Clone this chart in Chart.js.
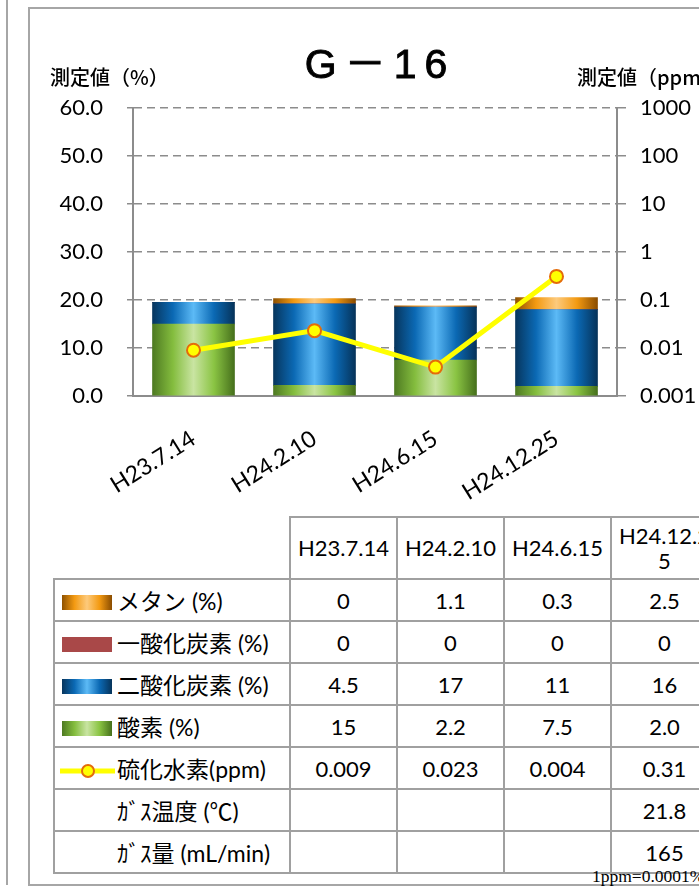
<!DOCTYPE html>
<html>
<head>
<meta charset="utf-8">
<script src="https://cdn.jsdelivr.net/npm/chart.js@4.4.1/dist/chart.umd.min.js"></script>
<style>
  body { margin: 0; width: 699px; height: 891px; overflow: hidden; background: #fff; position: relative;
         font-family: Lato, "Noto Sans CJK JP", sans-serif; color: #000; }
  .abs { position: absolute; }
  #leftLine { left: 6px; top: 0; width: 0; height: 885px; border-left: 2px solid #a6a6a6; }
  #frame { left: 28px; top: 7px; width: 800px; height: 879px; border: 2px solid #a6a6a6; box-sizing: border-box; }
  #chartBox { left: 0; top: 0; width: 699px; height: 510px; }
  #title { left: 280px; top: 30px; width: 200px; text-align: center; font-family: "Liberation Sans", "Noto Sans CJK JP", sans-serif;
           font-size: 41px; letter-spacing: 8px; -webkit-text-stroke: 0.9px #000; }
  .axTitle { font-family: "Noto Sans CJK JP", sans-serif; font-size: 20px; font-weight: 500; top: 62px; white-space: nowrap; }
  table { position: absolute; left: 53px; top: 516px; width: 664px; border-collapse: collapse; table-layout: fixed; font-size: 22px; }
  td { border: 2px solid #a0a0a0; text-align: center; padding: 0; height: 40px; }
  td.lab { text-align: left; white-space: nowrap; padding-left: 7px; font-size: 23px; }
  tr.head td { height: 60px; line-height: 1.15; }
  td.blank { border-top: none; border-left: none; }
  .sw { display: inline-block; width: 50px; height: 15px; vertical-align: 0px; margin-right: 5px; }
  .nosw { display: inline-block; width: 55px; }
  #note { left: 592px; top: 866px; font-family: "Liberation Serif", serif; font-size: 17.5px; white-space: nowrap; }
</style>
</head>
<body>
<div id="leftLine" class="abs"></div>
<div id="frame" class="abs"></div>
<div id="chartBox" class="abs"><canvas id="chart" width="699" height="510"></canvas></div>
<div id="title" class="abs">G－16</div>
<div class="abs axTitle" style="left:50px">測定値（%）</div>
<div class="abs axTitle" style="left:577px">測定値（ppm）</div>

<table id="tbl"></table>
<div id="note" class="abs">1ppm=0.0001%</div>

<script>
// --- data ---
const dates = ['H23.7.14', 'H24.2.10', 'H24.6.15', 'H24.12.25'];
const methane = [0, 1.1, 0.3, 2.5];        // %
const carbonMonoxide = [0, 0, 0, 0];       // %
const carbonDioxide = [4.5, 17, 11, 16];   // %
const oxygen = [15, 2.2, 7.5, 2.0];        // %
const hydrogenSulfide = [0.009, 0.023, 0.004, 0.31]; // ppm
const gasTemp = ['', '', '', '21.8'];      // ℃
const gasFlow = ['', '', '', '165'];       // mL/min

// table text as printed
const methaneText = ['0', '1.1', '0.3', '2.5'];
const coText = ['0', '0', '0', '0'];
const co2Text = ['4.5', '17', '11', '16'];
const o2Text = ['15', '2.2', '7.5', '2.0'];
const h2sText = ['0.009', '0.023', '0.004', '0.31'];

const leftTicks = [0, 10, 20, 30, 40, 50, 60];
const leftTickLabels = ['0.0', '10.0', '20.0', '30.0', '40.0', '50.0', '60.0'];
const rightTicks = [0.001, 0.01, 0.1, 1, 10, 100, 1000];
const rightTickLabels = ['0.001', '0.01', '0.1', '1', '10', '100', '1000'];

// cylinder-like gradients
const GREEN = ['#4e7a22', '#84bd3e', '#c9e4a2', '#8ac443', '#46701c'];
const BLUE = ['#07365e', '#0b69b4', '#5cbaf6', '#0b69b4', '#06335a'];
const ORANGE = ['#8f5200', '#f39a12', '#fdca7c', '#f39a12', '#8a4c00'];
const RED = ['#a94848', '#a94848', '#a94848', '#a94848', '#a94848'];
const GRID = '#8c8c8c';
const BAR_W = 82;

// --- data table with legend swatches ---
const grad = s => 'linear-gradient(to right,' + s.join(',') + ')';
const h2sSwatch = '<svg width="55" height="20" style="vertical-align:-3px;margin-left:-2px;margin-right:2px">' +
    '<line x1="0" y1="10" x2="55" y2="10" stroke="#ffff00" stroke-width="5"/>' +
    '<circle cx="28" cy="10" r="6" fill="#ffff00" stroke="#e46c0a" stroke-width="2"/></svg>';
const rows = [
    ['<span class="sw" style="background:' + grad(ORANGE) + '"></span>メタン (%)', methaneText],
    ['<span class="sw" style="background:#a94848"></span>一酸化炭素 (%)', coText],
    ['<span class="sw" style="background:' + grad(BLUE) + '"></span>二酸化炭素 (%)', co2Text],
    ['<span class="sw" style="background:' + grad(GREEN) + '"></span>酸素 (%)', o2Text],
    [h2sSwatch + '硫化水素(ppm)', h2sText],
    ['<span class="nosw"></span>ｶﾞｽ温度 (℃)', gasTemp],
    ['<span class="nosw"></span>ｶﾞｽ量 (mL/min)', gasFlow]
];
let html = '<colgroup><col style="width:236px">' + dates.map(() => '<col style="width:107px">').join('') + '</colgroup>';
html += '<tr class="head"><td class="blank"></td>' +
    dates.map(d => '<td>' + (d.length > 8 ? d.slice(0, 8) + '<br>' + d.slice(8) : d) + '</td>').join('') + '</tr>';
rows.forEach(r => {
    html += '<tr><td class="lab">' + r[0] + '</td>' + r[1].map(v => '<td>' + v + '</td>').join('') + '</tr>';
});
document.getElementById('tbl').innerHTML = html;

function cylinder(stops) {
    return function(c) {
        const chart = c.chart;
        const xs = chart.scales.x;
        const area = chart.chartArea;
        if (c.dataIndex === undefined || !xs || !area) return stops[2];
        const cx = xs.getPixelForValue(c.dataIndex);
        if (!isFinite(cx)) return stops[2];
        const g = chart.ctx.createLinearGradient(cx - BAR_W / 2, 0, cx + BAR_W / 2, 0);
        stops.forEach((col, i) => g.addColorStop(i / (stops.length - 1), col));
        return g;
    };
}

const tickFont = { family: 'Lato, "Noto Sans CJK JP", sans-serif', size: 22 };

new Chart(document.getElementById('chart'), {
    type: 'bar',
    data: {
        labels: dates,
        datasets: [
            { type: 'line', label: '硫化水素(ppm)', data: hydrogenSulfide, yAxisID: 'y1', order: 0,
              borderColor: '#ffff00', borderWidth: 5, pointRadius: 6.5, pointBackgroundColor: '#ffff00',
              pointBorderColor: '#e46c0a', pointBorderWidth: 2, tension: 0 },
            { label: '酸素 (%)', data: oxygen, backgroundColor: cylinder(GREEN), order: 1 },
            { label: '二酸化炭素 (%)', data: carbonDioxide, backgroundColor: cylinder(BLUE), order: 1 },
            { label: '一酸化炭素 (%)', data: carbonMonoxide, backgroundColor: cylinder(RED), order: 1 },
            { label: 'メタン (%)', data: methane, backgroundColor: cylinder(ORANGE), order: 1 }
        ]
    },
    options: {
        responsive: false,
        animation: false,
        devicePixelRatio: 1,
        barThickness: BAR_W,
        layout: { padding: { top: 108, left: 0, right: 0, bottom: 0 } },
        plugins: { legend: { display: false }, tooltip: { enabled: false } },
        scales: {
            x: {
                stacked: true,
                grid: { display: false },
                border: { display: true, color: GRID, width: 2 },
                ticks: { color: '#000', font: { ...tickFont, size: 23 }, maxRotation: 32, minRotation: 32, padding: 21 },
                afterFit: s => { s.height = 114; }
            },
            y: {
                stacked: true, min: 0, max: 60,
                afterBuildTicks: s => { s.ticks = leftTicks.map(v => ({ value: v })); },
                ticks: { color: '#000', font: tickFont, padding: 24, callback: (v, i) => leftTickLabels[i] },
                grid: { color: GRID, lineWidth: 1.5, tickLength: 6, tickBorderDash: [] },
                border: { display: true, color: GRID, width: 2, dash: [8, 5] },
                afterFit: s => { s.width = 133; }
            },
            y1: {
                type: 'logarithmic', position: 'right', min: 0.001, max: 1000,
                afterBuildTicks: s => { s.ticks = rightTicks.map(v => ({ value: v })); },
                ticks: { color: '#000', font: tickFont, padding: 14, callback: (v, i) => rightTickLabels[i] },
                grid: { drawOnChartArea: false, color: GRID, lineWidth: 1.5, tickLength: 9 },
                border: { display: true, color: GRID, width: 2 },
                afterFit: s => { s.width = 82; }
            }
        }
    }
});
</script>
</body>
</html>
